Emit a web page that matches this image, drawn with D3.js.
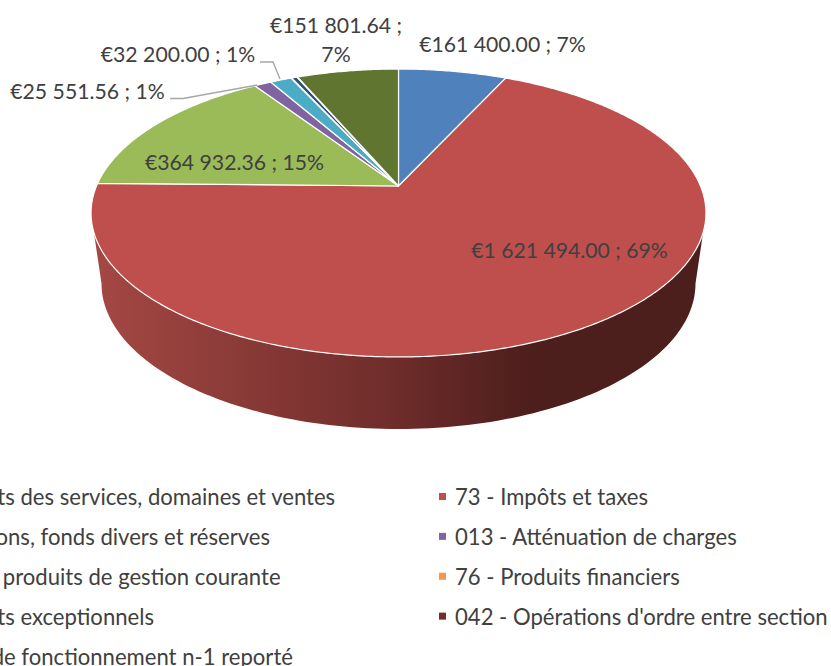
<!DOCTYPE html>
<html><head><meta charset="utf-8">
<script src="https://cdn.jsdelivr.net/npm/d3@7/dist/d3.min.js"></script>
<style>html,body{margin:0;padding:0;background:#fff;overflow:hidden}svg{display:block}text{font-family:Lato,"Open Sans",sans-serif;fill:#404040}</style>
</head><body><svg id="c" width="831" height="666"></svg>
<script>
const categories=["70 - Produits des services, domaines et ventes","73 - Impôts et taxes","10 - Dotations, fonds divers et réserves","013 - Atténuation de charges","75 - Autres produits de gestion courante","76 - Produits financiers","77 - Produits exceptionnels","042 - Opérations d'ordre entre section","002 - Exc. de fonctionnement n-1 reporté"];
const values=[161400,1621494,364932.36,25551.56,32200,1000,8000,1000,151801.64];
const colors=["#4f81bd","#be4f4c","#9bbb59","#8064a2","#4bacc6","#f79646","#2c4d75","#772c2a","#5f7530"];
const labelLines=[["€161 400.00 ; 7%"],["€1 621 494.00 ; 69%"],["€364 932.36 ; 15%"],["€25 551.56 ; 1%"],["€32 200.00 ; 1%"],[],[],[],["€151 801.64 ;","7%"]];

const svg=d3.select("#c");
const cx=398.5, apexY=186, p=-0.1875, A=138.9, B=302;
const project=a=>{const u=Math.sin(a),v=-Math.cos(a),d=1+p*v;return [cx+B*u/d,apexY+A*v/d];};
const pie=d3.pie().sort(null).value(d=>d)(values);
const line=d3.line();

// Side wall
const defs=svg.append("defs");
const g=defs.append("linearGradient").attr("id","wall").attr("gradientUnits","userSpaceOnUse").attr("x1",91).attr("x2",706).attr("y1",0).attr("y2",0);
[[0,"#a54844"],[0.5,"#6d2c2a"],[0.72,"#4c1e1c"],[1,"#4c1e1c"]].forEach(s=>g.append("stop").attr("offset",s[0]).attr("stop-color",s[1]));
const ts=d3.range(0,Math.PI+0.001,Math.PI/120);
const topEdge=ts.map(t=>[cx+307.5*Math.cos(t),213+144*Math.sin(t)]);
const botEdge=ts.map(t=>[cx+297*Math.cos(t),283.5+145.5*Math.sin(t)]).reverse();
svg.append("path").attr("d",line(topEdge.concat(botEdge))+"Z").attr("fill","url(#wall)");

// Top surface
svg.append("g").selectAll("path").data(pie).join("path")
 .attr("d",d=>{
   const n=Math.max(2,Math.ceil((d.endAngle-d.startAngle)/0.01));
   const pts=d3.range(n+1).map(i=>project(d.startAngle+(d.endAngle-d.startAngle)*i/n));
   return line([[cx,apexY]].concat(pts))+"Z";
 })
 .attr("fill",(d,i)=>colors[i])
 .attr("stroke","#fff")
 .attr("stroke-width",1.2)
 .attr("stroke-linejoin","round");

// Leader lines
const leaders=[[[170,98.5],[183,98.5],[257,85]],[[260,62],[273,62],[280,79]]];
svg.append("g").selectAll("path").data(leaders).join("path")
 .attr("d",d=>line(d)).attr("fill","none").attr("stroke","#a6a6a6").attr("stroke-width",1.4);

// Data labels
const labelPos=[[502.5,43.5],[569.5,249.5],[234.5,161.5],[87.5,90.5],[178,53.5],null,null,null,[336,24.5]];
const lbl=svg.append("g").attr("font-size",21.2);
labelLines.forEach((ls,i)=>{
  ls.forEach((t,j)=>{
    lbl.append("text").attr("x",labelPos[i][0]).attr("y",labelPos[i][1]+j*29).attr("text-anchor","middle").attr("dominant-baseline","central").text(t);
  });
});

// Legend (row-wise, two columns, clipped on the left as in the reference)
const rowY=d3.scalePoint().domain(d3.range(5)).range([496.5,656]);
const colX=[-111,455];
const leg=svg.append("g").attr("font-size",22.1);
categories.forEach((c,i)=>{
  const col=i%2,row=Math.floor(i/2);
  leg.append("rect").attr("x",colX[col]-16).attr("y",rowY(row)-3.5).attr("width",7).attr("height",7).attr("fill",colors[i]);
  leg.append("text").attr("x",colX[col]).attr("y",rowY(row)).attr("dominant-baseline","central").text(c);
});
</script></body></html>
